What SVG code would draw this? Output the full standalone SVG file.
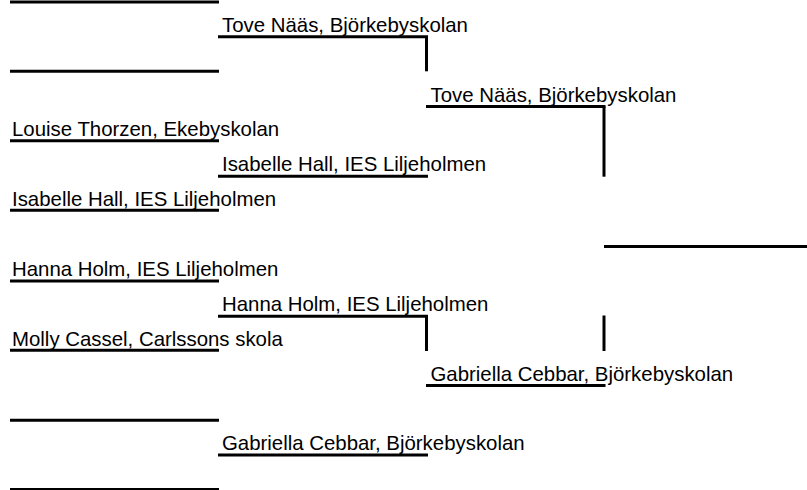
<svg xmlns="http://www.w3.org/2000/svg" width="807" height="490" viewBox="0 0 807 490">
<style>
.ln{stroke:#000;stroke-width:3;fill:none}
.tx{font-family:"Liberation Sans",Arial,sans-serif;font-size:20.4px;fill:#000}
</style>
<rect width="807" height="490" fill="#fff"/>
<g id="connectors">
<line class="ln" x1="426.5" y1="36.7" x2="426.5" y2="71.3"/>
<line class="ln" x1="426.5" y1="316.2" x2="426.5" y2="351"/>
<line class="ln" x1="604" y1="106.5" x2="604" y2="176.7"/>
<line class="ln" x1="604" y1="315.5" x2="604" y2="351"/>
</g>
<g id="r1-1"><line class="ln" x1="10" y1="2" x2="219" y2="2"/></g>
<g id="r1-2"><line class="ln" x1="10" y1="71.3" x2="219" y2="71.3"/></g>
<g id="r1-3"><line class="ln" x1="10" y1="140.8" x2="219" y2="140.8"/><text class="tx" x="12" y="136">Louise Thorzen, Ekebyskolan</text></g>
<g id="r1-4"><line class="ln" x1="10" y1="210.3" x2="219" y2="210.3"/><text class="tx" x="12" y="205.5">Isabelle Hall, IES Liljeholmen</text></g>
<g id="r1-5"><line class="ln" x1="10" y1="281" x2="219" y2="281"/><text class="tx" x="12" y="276">Hanna Holm, IES Liljeholmen</text></g>
<g id="r1-6"><line class="ln" x1="10" y1="350.3" x2="219" y2="350.3"/><text class="tx" x="12" y="345.5">Molly Cassel, Carlssons skola</text></g>
<g id="r1-7"><line class="ln" x1="10" y1="420.3" x2="219" y2="420.3"/></g>
<g id="r1-8"><line class="ln" x1="10" y1="489.5" x2="219" y2="489.5"/></g>
<g id="r2-1"><line class="ln" x1="218" y1="36.7" x2="428" y2="36.7"/><text class="tx" x="222" y="31.5">Tove Nääs, Björkebyskolan</text></g>
<g id="r2-2"><line class="ln" x1="218" y1="176.3" x2="428" y2="176.3"/><text class="tx" x="222" y="171.3">Isabelle Hall, IES Liljeholmen</text></g>
<g id="r2-3"><line class="ln" x1="218" y1="316.2" x2="428" y2="316.2"/><text class="tx" x="222" y="311.2">Hanna Holm, IES Liljeholmen</text></g>
<g id="r2-4"><line class="ln" x1="218" y1="455" x2="428" y2="455"/><text class="tx" x="222" y="450">Gabriella Cebbar, Björkebyskolan</text></g>
<g id="r3-1"><line class="ln" x1="426" y1="106.5" x2="605.5" y2="106.5"/><text class="tx" x="430.5" y="101.5">Tove Nääs, Björkebyskolan</text></g>
<g id="r3-2"><line class="ln" x1="426" y1="385.5" x2="605.5" y2="385.5"/><text class="tx" x="430.5" y="380.5">Gabriella Cebbar, Björkebyskolan</text></g>
<g id="r4-1"><line class="ln" x1="604" y1="246.5" x2="807" y2="246.5"/></g>
</svg>
